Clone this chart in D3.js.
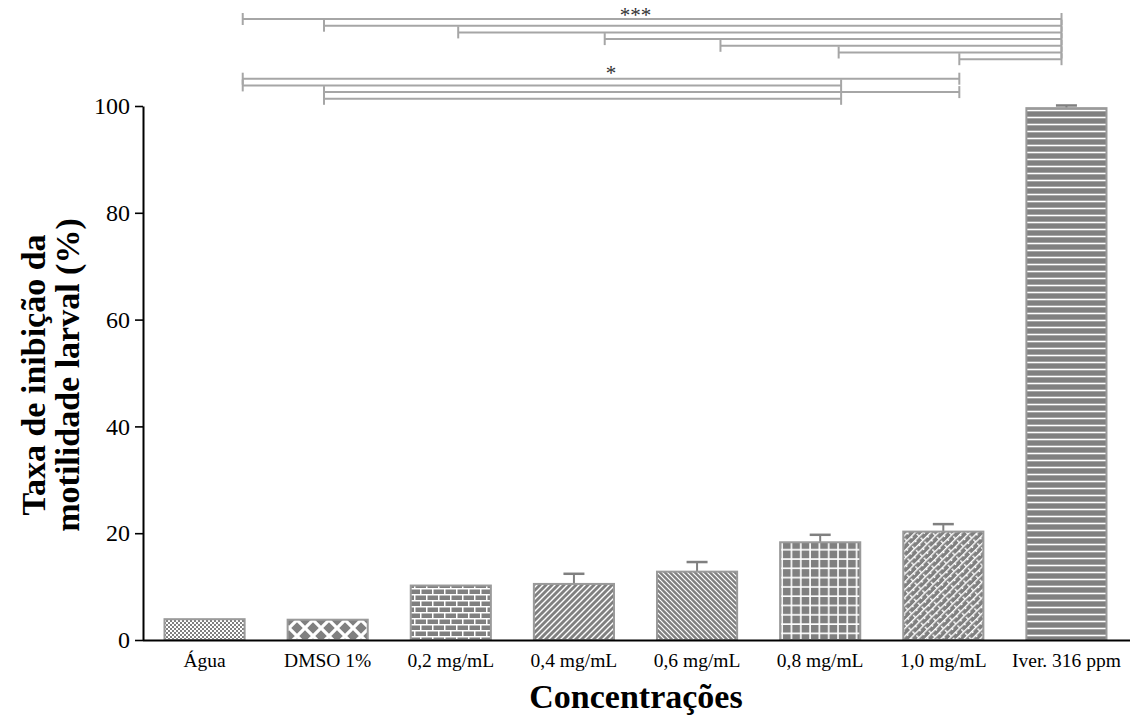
<!DOCTYPE html>
<html>
<head>
<meta charset="utf-8">
<script src="https://cdn.jsdelivr.net/npm/d3@7/dist/d3.min.js"></script>
<style>
  html, body { margin: 0; padding: 0; background: #fff; }
  svg { display: block; }
  text { font-family: "Liberation Serif", "Times New Roman", serif; }
</style>
</head>
<body>
<svg id="chart" width="1135" height="718"></svg>
<script>
// ---- Data ----
const categories = ["Água", "DMSO 1%", "0,2 mg/mL", "0,4 mg/mL", "0,6 mg/mL", "0,8 mg/mL", "1,0 mg/mL", "Iver. 316 ppm"];
const means = [3.9, 3.8, 10.2, 10.5, 12.8, 18.3, 20.3, 99.6];
const errors = [0, 0, 0, 1.9, 1.8, 1.4, 1.4, 0.5];
const patterns = ["dots", "lattice", "brick", "diagUp", "diagDown", "grid", "weave", "hlines"];
const yTicks = [0, 20, 40, 60, 80, 100];
const yLabelLines = ["Taxa de inibição da", "motilidade larval (%)"];
const xLabel = "Concentrações";

// Significance brackets (positions in category units: index + fraction)
const sig3From = [0.31, 0.97, 2.06, 3.25, 4.19, 5.15, 6.13];
const sig3To   = [6.96, 6.96, 6.96, 6.96, 6.96, 6.96, 6.96];
const sig3Label = "***";
const sig1From = [0.31, 0.31, 0.97, 0.97];
const sig1To   = [6.13, 5.17, 6.13, 5.17];
const sig1Label = "*";

// ---- Layout ----
const svg = d3.select("#chart");
const plotLeft = 143, plotRight = 1128, plotTop = 106, plotBottom = 640;

const x = d3.scaleBand().domain(categories).range([plotLeft, plotRight])
  .paddingInner(0.333).paddingOuter(0.1665);
const y = d3.scaleLinear().domain([0, 100]).range([plotBottom, plotTop]);
const catPos = p => x(categories[0]) + x.bandwidth() / 2 + p * x.step();

// ---- Patterns ----
const defs = svg.append("defs");
const G = "#808080", W = "#ffffff";
function pat(id, w, h, draw, transform) {
  const p = defs.append("pattern").attr("id", id).attr("patternUnits", "userSpaceOnUse")
    .attr("width", w).attr("height", h);
  if (transform) p.attr("patternTransform", transform);
  p.append("rect").attr("width", w).attr("height", h).attr("fill", G);
  draw(p);
}
pat("dots", 4, 4, p => {
  p.append("rect").attr("x", 0).attr("y", 0).attr("width", 2).attr("height", 2).attr("fill", W);
  p.append("rect").attr("x", 2).attr("y", 2).attr("width", 2).attr("height", 2).attr("fill", W);
});
pat("lattice", 16, 16, p => {
  p.append("path").attr("d", "M0,0L16,16M16,0L0,16M-8,8L0,16M8,-8L24,8M-8,8L8,-8M8,24L24,8")
    .attr("stroke", W).attr("stroke-width", 3.2);
}, "translate(1,4)");
pat("brick", 12, 12, p => {
  p.append("path").attr("d", "M0,0.75H12M0,6.75H12M0.75,0V6M6.75,6V12")
    .attr("stroke", W).attr("stroke-width", 1.5);
});
pat("diagUp", 6, 6, p => {
  p.append("path").attr("d", "M-1,7L7,-1M-1,1L1,-1M5,7L7,5")
    .attr("stroke", W).attr("stroke-width", 1.4);
});
pat("diagDown", 5, 5, p => {
  p.append("path").attr("d", "M-1,-1L6,6M4,-1L6,1M-1,4L1,6")
    .attr("stroke", W).attr("stroke-width", 1.2);
});
pat("grid", 9.3, 9.3, p => {
  p.append("path").attr("d", "M0,1H9.3M1,0V9.3")
    .attr("stroke", W).attr("stroke-width", 1.6);
});
pat("weave", 12, 5.5, p => {
  p.append("path").attr("d", "M0,0.7H12M0.7,0V2.75M6.7,2.75V5.5")
    .attr("stroke", W).attr("stroke-width", 1.4);
}, "rotate(-45)");
pat("hlines", 10, 7, p => {
  p.append("path").attr("d", "M0,3.5H10").attr("stroke", W).attr("stroke-width", 1.6);
}, "translate(0,2)");

// ---- Bars ----
const data = categories.map((c, i) => ({ c, m: means[i], e: errors[i], p: patterns[i] }));

// error bars (behind bars)
const eb = svg.append("g").attr("stroke", "#808080").attr("stroke-width", 2).attr("fill", "none");
data.filter(d => d.e > 0).forEach(d => {
  const cx = x(d.c) + x.bandwidth() / 2;
  eb.append("line").attr("x1", cx).attr("x2", cx).attr("y1", y(d.m)).attr("y2", y(d.m + d.e));
  eb.append("line").attr("x1", cx - 10.5).attr("x2", cx + 10.5).attr("y1", y(d.m + d.e)).attr("y2", y(d.m + d.e))
    .attr("stroke-width", 2.5);
});

svg.append("g").selectAll("rect").data(data).join("rect")
  .attr("x", d => x(d.c) + 1)
  .attr("y", d => y(d.m))
  .attr("width", x.bandwidth() - 2)
  .attr("height", d => y(0) - y(d.m))
  .attr("fill", d => `url(#${d.p})`)
  .attr("stroke", "#9a9a9a")
  .attr("stroke-width", 2);

// ---- Axes ----
const yAxis = d3.axisLeft(y).tickValues(yTicks).tickSize(8).tickPadding(5).tickSizeOuter(0);
const gy = svg.append("g").attr("transform", `translate(${plotLeft},0)`).call(yAxis);
gy.select(".domain").attr("stroke", "#000").attr("stroke-width", 2);
gy.selectAll(".tick line").attr("stroke", "#000").attr("stroke-width", 1.6);
gy.selectAll(".tick text").attr("font-family", "Liberation Serif").attr("font-size", 24).attr("fill", "#000");

const xAxis = d3.axisBottom(x).tickSize(0).tickPadding(13).tickSizeOuter(0);
const gx = svg.append("g").attr("transform", `translate(0,${plotBottom})`).call(xAxis);
gx.select(".domain").attr("d", `M${plotLeft},0.5H${plotRight + 2}`).attr("stroke", "#000").attr("stroke-width", 2);
gx.selectAll(".tick text").attr("font-family", "Liberation Serif").attr("font-size", 19.5).attr("fill", "#000");

// ---- Titles ----
svg.append("text").attr("x", 636).attr("y", 708).attr("text-anchor", "middle")
  .attr("font-weight", "bold").attr("font-size", 34).text(xLabel);
yLabelLines.forEach((t, i) => {
  svg.append("text").attr("transform", `translate(${45 + i * 34},375) rotate(-90)`)
    .attr("text-anchor", "middle").attr("font-weight", "bold").attr("font-size", 34).text(t);
});

// ---- Significance brackets ----
const bg = svg.append("g").attr("stroke", "#a6a6a6").attr("stroke-width", 2).attr("fill", "none");
function bracket(from, to, y0, dy) {
  from.forEach((f, i) => {
    const yy = y0 + i * dy;
    const x1 = catPos(f), x2 = catPos(to[i]);
    bg.append("line").attr("x1", x1).attr("x2", x2).attr("y1", yy).attr("y2", yy);
    bg.append("line").attr("x1", x1).attr("x2", x1).attr("y1", yy - 6).attr("y2", yy + 6);
    bg.append("line").attr("x1", x2).attr("x2", x2).attr("y1", yy - 6).attr("y2", yy + 6);
  });
}
bracket(sig3From, sig3To, 19, 6.7);
bracket(sig1From, sig1To, 78.7, 6.7);

svg.append("text").attr("x", catPos(3.5)).attr("y", 22).attr("text-anchor", "middle")
  .attr("font-size", 21).attr("fill", "#333").text(sig3Label);
svg.append("text").attr("x", catPos(3.3)).attr("y", 80).attr("text-anchor", "middle")
  .attr("font-size", 21).attr("fill", "#333").text(sig1Label);
</script>
</body>
</html>
